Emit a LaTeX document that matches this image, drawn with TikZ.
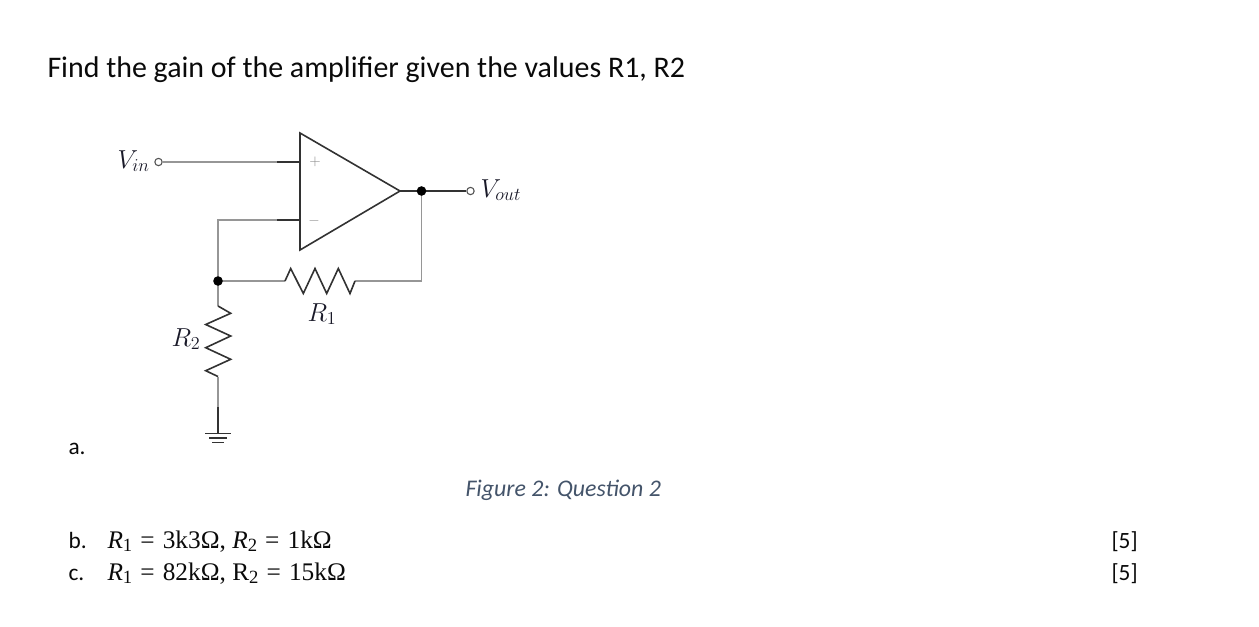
\documentclass[tikz,border=0pt]{standalone}
\usepackage{fix-cm}
\usepackage[no-math]{fontspec}
\setmainfont{Carlito}
\newfontfamily\eqfont{Liberation Serif}
\newcommand{\eqvar}[2]{{\itshape #1}\raisebox{-0.28ex}{\fontsize{14}{14}\selectfont #2}}
\newcommand{\eqrel}{\hspace{0.32em}=\hspace{0.32em}}
\tikzset{every picture/.style={line width=0.75pt}}
\tikzset{
  wire/.style={draw={rgb, 255:red, 150; green, 150; blue, 150 },line width=1.2pt},
  darkwire/.style={draw={rgb, 255:red, 50; green, 50; blue, 50 },line width=1.2pt},
  terminal/.style={circle,draw={rgb, 255:red, 80; green, 80; blue, 80 },fill=white,inner sep=0pt,minimum size=5.5pt,line width=0.8pt},
  junction/.style={circle,fill=black,inner sep=0pt,minimum size=7.2pt},
  bodytext/.style={anchor=base west,inner sep=0pt,text={rgb, 255:red, 10; green, 10; blue, 10 }},
  eqtext/.style={anchor=base west,inner sep=0pt,font=\eqfont\fontsize{19}{19}\selectfont,text={rgb, 255:red, 10; green, 10; blue, 10 }},
  circuitlabel/.style={anchor=base west,inner sep=0pt,font=\fontsize{19.5}{19.5}\selectfont,text={rgb, 255:red, 25; green, 25; blue, 40 }}
}
\begin{document}
\begin{tikzpicture}[x=0.75pt,y=0.75pt,yscale=-1,xscale=1]
\useasboundingbox (0,0) rectangle (1259,626);

%Shape: Triangle
\coordinate (ampTop) at (300,133);
\coordinate (ampBottom) at (300,250);
\coordinate (ampTip) at (400,191);
\draw [darkwire,line join=miter] (ampTop) -- (ampTip) -- (ampBottom) -- cycle ;
\coordinate (ampPlus) at (300,162);
\coordinate (ampMinus) at (300,220);
\coordinate (plusStub) at (277,162);
\coordinate (minusStub) at (277,220);

%Terminals and junctions
\node [terminal] (vinTerm) at (158.5,162) {};
\node [terminal] (voutTerm) at (470.5,191) {};
\coordinate (outJoin) at (421.5,191);
\coordinate (fbJoin) at (218,281);

%Wires
\draw [wire] (vinTerm) -- (plusStub);
\draw [darkwire] (plusStub) -- (ampPlus);
\coordinate (minusCorner) at (218,220);
\draw [wire] (fbJoin) -- (minusCorner) -- (minusStub);
\draw [darkwire] (minusStub) -- (ampMinus);

%Shape: Resistor R1
\coordinate (rOneLeft) at (285,281);
\coordinate (rOneRight) at (355,281);
\coordinate (outCorner) at (421.5,281);
\draw [wire] (outJoin) -- (outCorner) -- (rOneRight);
\draw [wire] (fbJoin) -- (rOneLeft);
\draw [darkwire,line join=miter] (rOneLeft) -- (290.7,268.5) -- (303.3,293.5) -- (315,268.5) -- (326.7,293.5) -- (338.3,268.5) -- (350,293.5) -- (rOneRight);
\draw [darkwire] (ampTip) -- (outJoin) -- (voutTerm);

%Shape: Resistor R2
\coordinate (rTwoTop) at (218,306);
\coordinate (rTwoBottom) at (218,376.5);
\draw [wire] (fbJoin) -- (rTwoTop);
\draw [darkwire,line join=miter] (rTwoTop) -- (230.7,313.3) -- (205.7,324.5) -- (230.7,336) -- (205.7,347.7) -- (230.7,359.3) -- (205.7,370.7) -- (rTwoBottom);

\node [junction] (outDot) at (outJoin) {};
\node [junction] (fbDot) at (fbJoin) {};

%Shape: Ground
\coordinate (gndStub) at (218,407);
\coordinate (gndTop) at (218,433.5);
\draw [wire] (rTwoBottom) -- (gndStub);
\draw [darkwire] (gndStub) -- (gndTop);
\draw [darkwire] (205,433.5) -- (231,433.5);
\draw [darkwire] (209,438) -- (227,438);
\draw [darkwire] (212,442.5) -- (224,442.5);

%Signs in the triangle
\node [inner sep=0pt,text={rgb, 255:red, 140; green, 140; blue, 140 },font=\fontsize{11}{11}\selectfont] (plusSign) at (315,162) {$+$};
\node [inner sep=0pt,text={rgb, 255:red, 140; green, 140; blue, 140 },font=\fontsize{11}{11}\selectfont] (minusSign) at (314,220.5) {$-$};

% Text Node
\node [circuitlabel] (vinLabel) at (117,168) {$V_{in}$};
\node [circuitlabel] (voutLabel) at (480,197) {$V_{out}$};
\node [circuitlabel] (rOneLabel) at (307,321) {$R_1$};
\node [circuitlabel] (rTwoLabel) at (171,346) {$R_2$};

\node [bodytext,font=\fontsize{22.45}{22.45}\selectfont] (title) at (47,77) {Find the gain of the amplifier given the values R1, R2};
\node [bodytext,font=\fontsize{17.5}{17.5}\selectfont] (itemA) at (68,454) {a.};
\node [bodytext,font=\fontsize{17.9}{17.9}\selectfont\itshape,text={rgb, 255:red, 68; green, 84; blue, 106 }] (caption) at (465,496) {Figure 2: Question 2};
\node [bodytext,font=\fontsize{17.5}{17.5}\selectfont] (itemB) at (68,548) {b.};
\node [bodytext,font=\fontsize{17.5}{17.5}\selectfont] (itemC) at (68,580) {c.};
\node [eqtext] (eqB) at (107,548) {\eqvar{R}{1}\eqrel 3k3Ω, \eqvar{R}{2}\eqrel 1kΩ};
\node [eqtext] (eqC) at (107,580) {\eqvar{R}{1}\eqrel 82kΩ, R\raisebox{-0.28ex}{\fontsize{14}{14}\selectfont 2}\eqrel 15kΩ};
\node [bodytext,font=\fontsize{17.5}{17.5}\selectfont] (markB) at (1111,548) {[5]};
\node [bodytext,font=\fontsize{17.5}{17.5}\selectfont] (markC) at (1111,580) {[5]};

\end{tikzpicture}
\end{document}
